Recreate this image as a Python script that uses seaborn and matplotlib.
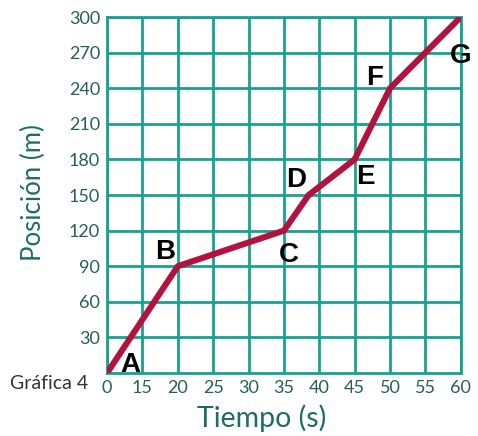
import numpy as np
import pandas as pd
import matplotlib
matplotlib.use("Agg")
import matplotlib.pyplot as plt
import seaborn as sns

# Data
puntos = ["A", "B", "C", "D", "E", "F", "G"]
tiempo = [0, 20, 35, 38.5, 45, 50, 60]
posicion = [0, 90, 120, 150, 180, 240, 300]
x_ticks = [0, 15, 20, 25, 30, 35, 40, 45, 50, 55, 60]
y_ticks = [30, 60, 90, 120, 150, 180, 210, 240, 270, 300]

# label offsets in pixels (style)
offsets = [(23, 8), (-13, 14), (5, -24), (-13, 15), (11, -18), (-15, 10), (0, -39)]

sns.set_theme(style="white")
plt.rcParams['font.family'] = ['Lato', 'DejaVu Sans']

GRID = "#17a190"
TICK = "#245f5a"
LABEL = "#1d6d66"
LINE = "#b3123f"

def fwd(t):
    t = np.asarray(t, dtype=float)
    return np.where(t < 15, t / 15.0, 1 + (t - 15) / 5.0)

def inv(p):
    p = np.asarray(p, dtype=float)
    return np.where(p < 1, p * 15.0, 15 + (p - 1) * 5.0)

fig = plt.figure(figsize=(4.78, 4.36), dpi=100)
ax = fig.add_axes([0.224, 0.1445, 0.74, 0.8165])
ax.set_xscale("function", functions=(fwd, inv))

df = pd.DataFrame({"Tiempo": tiempo, "Posicion": posicion})
sns.lineplot(data=df, x="Tiempo", y="Posicion", ax=ax, color=LINE, lw=4.4,
             solid_joinstyle="round", solid_capstyle="round", zorder=3)

ax.set_xlim(0, 60)
ax.set_ylim(0, 300)
ax.set_xticks(x_ticks)
ax.set_xticklabels([str(v) for v in x_ticks])
ax.set_yticks(y_ticks)
ax.set_yticklabels([str(v) for v in y_ticks])

ax.grid(True, color=GRID, lw=2.0)
for s in ax.spines.values():
    s.set_color(GRID)
    s.set_linewidth(2.0)
ax.tick_params(axis="both", length=0, labelsize=13, labelcolor=TICK, pad=5)

ax.set_xlabel("Tiempo (s)", fontsize=20.5, color=LABEL, va="center")
ax.xaxis.set_label_coords(0.438, -0.128)
ax.set_ylabel("Posición (m)", fontsize=18.5, color=LABEL, va="center")
ax.yaxis.set_label_coords(-0.209, 0.508)

for lab, t, p, off in zip(puntos, tiempo, posicion, offsets):
    ax.annotate(lab, (t, p), xytext=off, textcoords="offset pixels",
                ha="center", va="center", fontsize=20, fontweight="bold",
                color="black", family=["Liberation Sans", "DejaVu Sans"],
                zorder=4, annotation_clip=False)

fig.text(49 / 478, 1 - 383 / 436, "Gráfica 4", fontsize=14, color="#333333",
         ha="center", va="center")

fig.savefig("out.png", dpi=100)
